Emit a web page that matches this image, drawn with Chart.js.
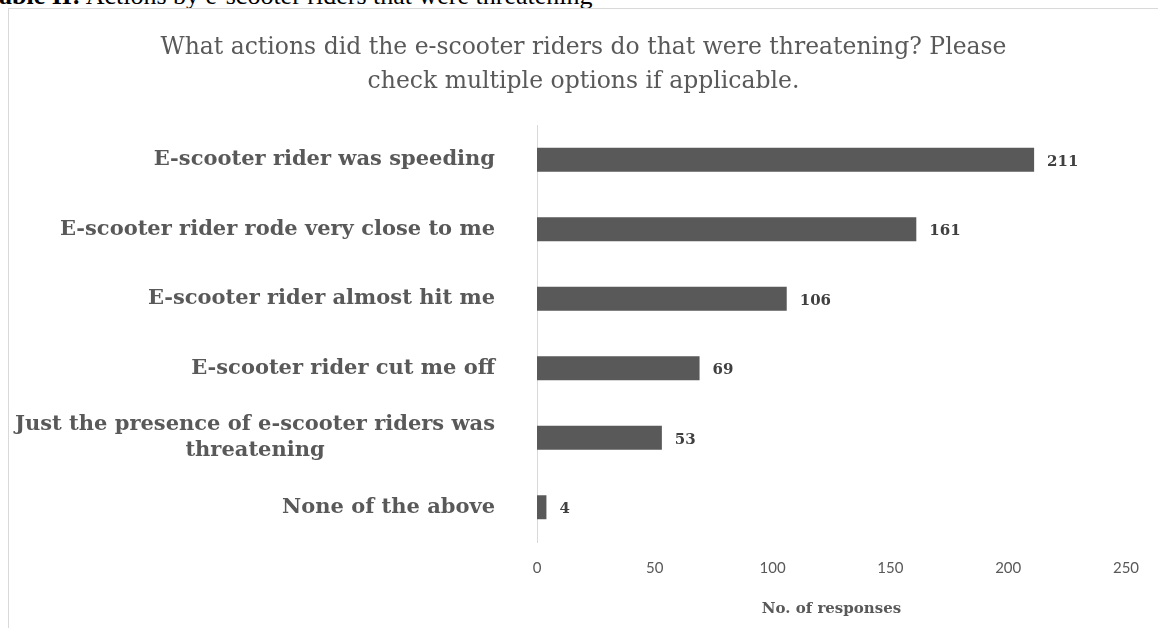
<!DOCTYPE html>
<html>
<head>
<meta charset="utf-8">
<script src="https://cdn.jsdelivr.net/npm/chart.js@4.4.1/dist/chart.umd.min.js"></script>
<style>
  html, body { margin: 0; padding: 0; background: #fff; overflow: hidden; }
  body { width: 1158px; height: 628px; position: relative; }
  .legenda {
    position: absolute; left: -16px; top: -19px;
    font: 26px "Liberation Serif", serif; line-height: 30px;
    color: #000; white-space: nowrap;
  }
  .quadro {
    position: absolute; left: 8px; top: 8px;
    width: 1160px; height: 630px; border: 1px solid #d9d9d9;
  }
  .area { position: absolute; left: 0; top: 0; width: 1149px; height: 619px; }
</style>
</head>
<body>
<div class="legenda"><b>Table II:</b> Actions by e-scooter riders that were threatening</div>
<div class="quadro">
  <div class="area"><canvas id="grafico"></canvas></div>
</div>

<script>
// categorias e respostas (do topo para baixo)
const categorias = [
  'E-scooter rider was speeding',
  'E-scooter rider rode very close to me',
  'E-scooter rider almost hit me',
  'E-scooter rider cut me off',
  ['Just the presence of e-scooter riders was', 'threatening'],
  'None of the above'
];
const respostas = [211, 161, 106, 69, 53, 4];
const eixoX = { min: 0, max: 250, passo: 50 };

const titulo = [
  'What actions did the e-scooter riders do that were threatening? Please',
  'check multiple options if applicable.'
];

const cinza = '#595959';
const fonteSerif = '"DejaVu Serif", "Liberation Serif", serif';

// rótulos das categorias desenhados à mão (linhas centradas entre si, bloco alinhado à direita)
const rotulosCategorias = {
  id: 'rotulosCategorias',
  afterDraw(chart) {
    const ctx = chart.ctx;
    const y = chart.scales.y;
    const direita = chart.chartArea.left - 42;
    ctx.save();
    ctx.font = 'bold 21px ' + fonteSerif;
    ctx.fillStyle = cinza;
    ctx.textBaseline = 'middle';
    ctx.textAlign = 'center';
    categorias.forEach((cat, i) => {
      const linhas = Array.isArray(cat) ? cat : [cat];
      const largura = Math.max(...linhas.map(l => ctx.measureText(l).width));
      const centro = direita - largura / 2;
      const alt = 26;
      const yc = y.getPixelForValue(i);
      linhas.forEach((l, k) => {
        ctx.fillText(l, centro, yc + (k - (linhas.length - 1) / 2) * alt);
      });
    });
    ctx.restore();
  }
};

// valores no fim de cada barra
const valoresBarras = {
  id: 'valoresBarras',
  afterDatasetsDraw(chart) {
    const ctx = chart.ctx;
    const meta = chart.getDatasetMeta(0);
    ctx.save();
    ctx.font = 'bold 15px ' + fonteSerif;
    ctx.fillStyle = '#404040';
    ctx.textAlign = 'left';
    ctx.textBaseline = 'middle';
    meta.data.forEach((barra, i) => {
      ctx.fillText(String(respostas[i]), barra.x + 13, barra.y + 2);
    });
    ctx.restore();
  }
};

new Chart(document.getElementById('grafico'), {
  type: 'bar',
  data: {
    labels: categorias,
    datasets: [{
      label: 'No. of responses',
      data: respostas,
      backgroundColor: cinza,
      borderWidth: 0,
      categoryPercentage: 0.5,
      barPercentage: 0.69
    }]
  },
  options: {
    indexAxis: 'y',
    responsive: true,
    maintainAspectRatio: false,
    animation: false,
    layout: { padding: { left: 20, right: 20, top: 0, bottom: 0 } },
    plugins: {
      legend: { display: false },
      tooltip: { enabled: false },
      title: {
        display: true,
        text: titulo,
        color: cinza,
        font: { family: fonteSerif, size: 23.5, weight: 'normal', lineHeight: 1.447 },
        padding: { top: 22, bottom: 26 }
      }
    },
    scales: {
      x: {
        min: eixoX.min,
        max: eixoX.max,
        ticks: {
          stepSize: eixoX.passo,
          color: cinza,
          font: { family: 'Lato, sans-serif', size: 15 },
          padding: 17
        },
        grid: { display: false, drawTicks: false },
        border: { display: false },
        title: {
          display: true,
          text: 'No. of responses',
          color: cinza,
          font: { family: fonteSerif, size: 15, weight: 'bold' },
          padding: { top: 6, bottom: 10 }
        },
        afterFit(scale) { scale.paddingRight = 32; }
      },
      y: {
        ticks: { display: false },
        grid: { display: false, drawTicks: false },
        border: { display: true, color: '#d9d9d9', width: 1 },
        afterFit(scale) { scale.width = 508; }
      }
    }
  },
  plugins: [rotulosCategorias, valoresBarras]
});
</script>
</body>
</html>
